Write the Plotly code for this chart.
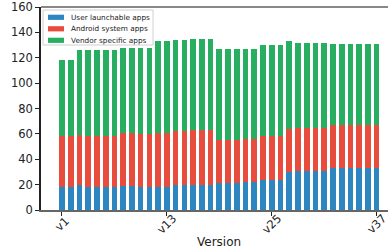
import plotly.graph_objects as go

versions = [f"v{i}" for i in range(1, 38)]
user_apps = [18, 18, 20, 18, 18, 18, 18, 19, 19, 18, 18, 18, 18, 20, 20, 20, 20, 20,
             21, 21, 21, 22, 22, 24, 24, 24, 30, 31, 31, 31, 31, 33, 33, 33, 33, 33, 33]
android_apps = [40, 40, 39, 40, 40, 40, 40, 42, 42, 42, 42, 43, 43, 42, 42, 43, 43, 43,
                34, 34, 34, 34, 34, 34, 34, 34, 34, 34, 34, 34, 34, 34, 34, 34, 34, 34, 34]
vendor_apps = [60, 60, 67, 68, 68, 68, 68, 67, 67, 68, 68, 72, 72, 72, 72, 72, 72, 72,
               72, 72, 72, 71, 71, 72, 72, 72, 69, 67, 67, 67, 67, 64, 64, 64, 64, 64, 64]
tick_labels = ["v1", "v13", "v25", "v37"]
series = [("User launchable apps", user_apps, "#2E86C1"),
          ("Android system apps", android_apps, "#E74C3C"),
          ("Vendor specific apps", vendor_apps, "#27AE60")]

font = "DejaVu Sans"
W, H = 389, 252
L, R, T, B = 41, 1, 7, 42
pw, ph = W - L - R, H - T - B


def px(x):
    return (x - L) / pw


def py(y):
    return (H - B - y) / ph


fig = go.Figure()
for name, vals, col in series:
    fig.add_trace(go.Bar(x=versions, y=vals, name=name, marker_color=col,
                         marker_line_width=0, width=0.65, showlegend=False))

shapes = [dict(type="line", xref="paper", yref="paper", x0=0, x1=1, y0=1, y1=1,
               line=dict(color="#888", width=2))]
annotations = []

# legend box
shapes.append(dict(type="rect", xref="paper", yref="paper", x0=px(43), x1=px(153),
                   y0=py(45), y1=py(10), line=dict(color="#d0d0d0", width=1),
                   fillcolor="rgba(255,255,255,0.9)", layer="above"))
for i, (name, vals, col) in enumerate(series):
    cy = 17.3 + i * 11.5
    shapes.append(dict(type="rect", xref="paper", yref="paper", x0=px(48), x1=px(64),
                       y0=py(cy + 2.6), y1=py(cy - 2.6), line=dict(width=0),
                       fillcolor=col, layer="above"))
    annotations.append(dict(text=name, xref="paper", yref="paper", x=px(69), y=py(cy),
                            xanchor="left", yanchor="middle", showarrow=False,
                            font=dict(size=7.3, family=font, color="#222")))

# rotated x tick labels, centred on ticks
for lab in tick_labels:
    annotations.append(dict(text=lab, xref="x", yref="paper", x=lab, y=py(224),
                            xanchor="center", yanchor="middle", textangle=-45,
                            showarrow=False, font=dict(size=11.5, family=font, color="#222")))

annotations.append(dict(text="Version", xref="paper", yref="paper", x=px(219), y=py(242),
                        xanchor="center", yanchor="middle", showarrow=False,
                        font=dict(size=12, family=font, color="#222")))

fig.update_layout(
    width=W, height=H, barmode="stack",
    margin=dict(l=L, r=R, t=T, b=B),
    plot_bgcolor="white", paper_bgcolor="white",
    font=dict(family=font, size=11.5, color="#222"),
    showlegend=False,
    xaxis=dict(range=[-2.4, 37.3], tickmode="array", tickvals=tick_labels,
               ticktext=["", "", "", ""], ticks="outside", ticklen=4,
               tickcolor="#222", showline=True, linecolor="#666", linewidth=2,
               showgrid=False, automargin=False),
    yaxis=dict(range=[0, 160], dtick=20, ticks="outside", ticklen=4, tickcolor="#222",
               showline=True, linecolor="#222", linewidth=1.5, showgrid=False,
               zeroline=False, automargin=False),
    shapes=shapes,
    annotations=annotations,
)
fig.write_html("out.html", config={"displayModeBar": False},
               post_script="document.body.style.margin='0';document.body.style.overflow='hidden';")
